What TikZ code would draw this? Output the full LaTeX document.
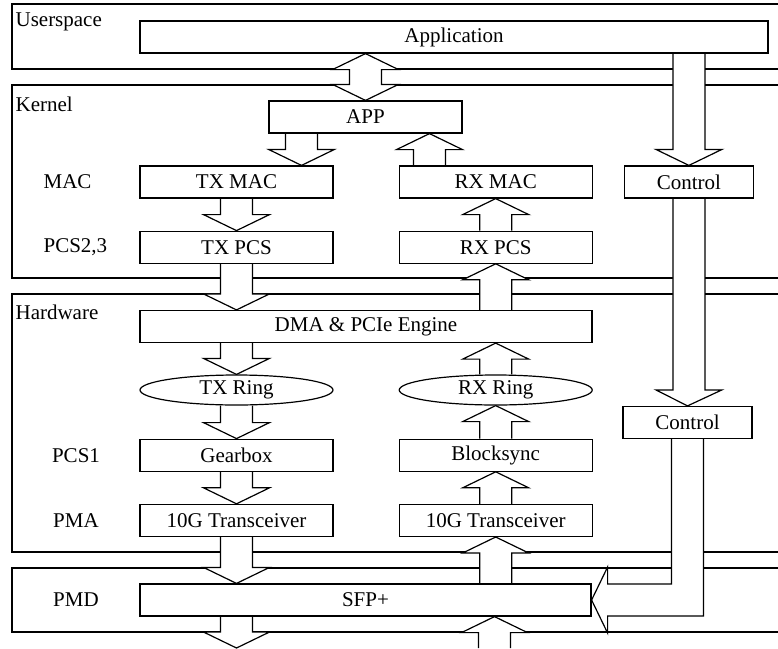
\documentclass[tikz,border=0pt]{standalone}
\usepackage{fontspec}
\setmainfont{Liberation Serif}
\usetikzlibrary{positioning,shapes.geometric,calc}
\pgfdeclarelayer{background}
\pgfsetlayers{background,main}

% hollow block arrow, vertical, from #1 to the tip #2
\newcommand{\fatarrow}[2]{%
  \draw[fat] let \p1=(#1), \p2=(#2), \n1={\y2-16pt*sign(\y2-(\y1))} in
    (\x1-16pt,\y1) -- (\x1-16pt,\n1) -- (\x1-33pt,\n1) -- (\x2,\y2)
    -- (\x1+33pt,\n1) -- (\x1+16pt,\n1) -- (\x1+16pt,\y1);}

\begin{document}
\begin{tikzpicture}[x=1pt, y=-1pt, font=\fontsize{21}{25}\selectfont, line width=1.2pt, box/.style={draw, fill=white, inner sep=0pt, minimum width=193pt, minimum height=32pt}, ring/.style={box, ellipse, minimum height=30pt}, ctl/.style={box, minimum width=129pt}, lbl/.style={inner sep=0pt}, layer/.style={draw, line width=1.2pt}, fat/.style={draw, fill=white, line width=1.2pt, line join=miter}]
\useasboundingbox (0,0) rectangle (778,648);
\node[box, minimum width=628pt] (application) at (454,37) {Application};
\node[box] (appk) at (365.5,117) {APP};
\node[box] (txmac) at (236.5,182) {TX MAC};
\node[box, right=65pt of txmac] (rxmac) {RX MAC};
\node[ctl, right=31pt of rxmac] (ctl1) {Control};
\node[box, below=32pt of txmac] (txpcs) {TX PCS};
\node[box, below=32pt of rxmac] (rxpcs) {RX PCS};
\node[box, minimum width=452pt] (dma) at (366,326.5) {DMA \& PCIe Engine};
\node[ring] (txring) at (236.5,390) {TX Ring};
\node[ring, right=65pt of txring] (rxring) {RX Ring};
\node[ctl] (ctl2) at (687.5,422.5) {Control};
\node[box, below=33pt of txring] (gearbox) {Gearbox};
\node[box, right=65pt of gearbox] (blocksync) {Blocksync};
\node[box, below=32pt of gearbox] (txxcvr) {10G Transceiver};
\node[box, right=65pt of txxcvr] (rxxcvr) {10G Transceiver};
\node[box, minimum width=451pt] (sfp) at (365.5,600) {SFP+};
% layer names
\node[lbl, anchor=base west] (luser) at (15,26) {Userspace};
\node[lbl, anchor=base west] (lkern) at (15,111) {Kernel};
\node[lbl, anchor=base west] (lhw) at (15,319) {Hardware};
\coordinate (lleft) at (43,0);
\coordinate (lcol) at (76,0);
\node[lbl, anchor=west] (lmac) at (lleft |- txmac) {MAC};
\node[lbl, anchor=west] (lpcsb) at (lleft |- txpcs) {PCS2,3};
\node[lbl] (lpcsa) at (lcol |- gearbox) {PCS1};
\node[lbl] (lpma) at (lcol |- txxcvr) {PMA};
\node[lbl] (lpmd) at (lcol |- sfp) {PMD};
\coordinate (appdown) at ([xshift=-64pt]appk.south);
\coordinate (appup) at ([xshift=64pt]appk.south);
\coordinate (txout) at (236.5,648);
\coordinate (rxin) at (494.5,648);
\begin{pgfonlayer}{background}
\begin{scope}
\clip (0,0) rectangle (778,648);
\draw[layer] (12,4) rectangle (800,69);
\draw[layer] (12,85) rectangle (800,278);
\draw[layer] (12,294) rectangle (800,552);
\draw[layer] (12,568) rectangle (800,632);
\end{scope}
\draw[fat] let \p1=(application.south -| appk), \p2=(appk.north) in
  (\x1,\y1) -- (\x1+33pt,\y1-16pt) -- (\x1+16pt,\y1-16pt) -- (\x1+16pt,\y2+16pt)
  -- (\x1+33pt,\y2+16pt) -- (\x2,\y2) -- (\x1-33pt,\y2+16pt) -- (\x1-16pt,\y2+16pt)
  -- (\x1-16pt,\y1-16pt) -- (\x1-33pt,\y1-16pt) -- cycle;
\fatarrow{appdown}{appdown |- txmac.north}
\fatarrow{appup |- rxmac.north}{appup}
\fatarrow{txmac.south}{txpcs.north}
\fatarrow{rxpcs.north}{rxmac.south}
\fatarrow{txpcs.south}{txpcs.south |- dma.north}
\fatarrow{dma.north -| rxpcs}{rxpcs.south}
\fatarrow{dma.south -| txring}{txring.north}
\fatarrow{rxring.north}{dma.south -| rxring}
\fatarrow{txring.south}{gearbox.north}
\fatarrow{blocksync.north}{rxring.south}
\fatarrow{gearbox.south}{txxcvr.north}
\fatarrow{rxxcvr.north}{blocksync.south}
\fatarrow{txxcvr.south}{sfp.north -| txxcvr}
\fatarrow{sfp.north -| rxxcvr}{rxxcvr.south}
\fatarrow{sfp.south -| txout}{txout}
\fatarrow{rxin}{sfp.south -| rxin}
\fatarrow{application.south -| ctl1}{ctl1.north}
\fatarrow{ctl1.south}{ctl2.north}
\draw[fat] let \p1=(ctl2.south), \p2=(sfp.east) in
  (\x1-16pt,\y1) -- (\x1-16pt,\y2+16pt) -- (\x2+16pt,\y2+16pt) -- (\x2+16pt,\y2+33pt)
  -- (\x2,\y2) -- (\x2+16pt,\y2-33pt) -- (\x2+16pt,\y2-16pt) -- (\x1+16pt,\y2-16pt)
  -- (\x1+16pt,\y1);
\end{pgfonlayer}
\end{tikzpicture}
\end{document}
